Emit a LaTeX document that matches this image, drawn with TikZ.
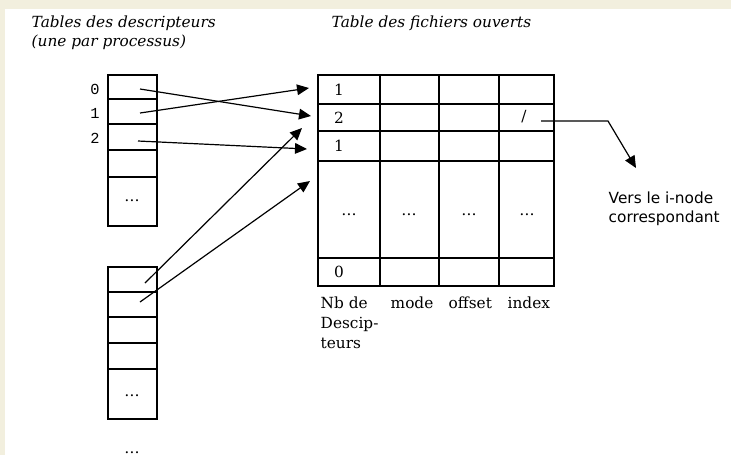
\documentclass[tikz,border=0pt]{standalone}
\usepackage{fontspec}
\setmainfont{DejaVu Serif}
\newfontfamily\sanslabel{DejaVu Sans}
\newfontfamily\monolabel{Liberation Mono}
\usetikzlibrary{arrows.meta}
\definecolor{slidebg}{RGB}{242,239,222}

\begin{document}
\begin{tikzpicture}[x=0.75pt, y=-0.75pt, font=\fontsize{11.5}{15}\selectfont,
    tbl/.style={line width=1.1pt},
    ptr/.style={line width=0.9pt, -{Triangle[length=9pt,width=8pt]}}]
    \fill[slidebg] (0,0) rectangle (731,455);
    \fill[white] (5,9) rectangle (731,455);
    \useasboundingbox (0,0) rectangle (731,455);

    \node (ttab) [anchor=base west] at (27,27) {\itshape Tables des descripteurs};
    \node (tproc) [anchor=base west] at (27,46) {\itshape (une par processus)};
    \node (tfich) [anchor=base west] at (327,27) {\itshape Table des fichiers ouverts};

    \draw[tbl] (108,75) rectangle (157,226);
    \foreach \y in {99,124,150,177}
      \draw[tbl] (108,\y) -- (157,\y);
    \node (dotsa) at (132,201) {\ldots};
    \foreach \i/\y in {0/89,1/113,2/138}
      \node (fd\i) at (95,\y) {\monolabel \i};

    \draw[tbl] (108,267) rectangle (157,419);
    \foreach \y in {292,317,343,369}
      \draw[tbl] (108,\y) -- (157,\y);
    \node (dotsb) at (132,396) {\ldots};
    \node (dotsc) [anchor=base] at (132,453) {\ldots};

    \draw[tbl] (318,75) rectangle (554,286);
    \foreach \y in {104,131,161,258}
      \draw[tbl] (318,\y) -- (554,\y);
    \foreach \x in {380,439,499}
      \draw[tbl] (\x,75) -- (\x,286);
    \foreach \n/\v/\y in {ra/1/89.5,rb/2/117.5,rc/1/146,rd/0/272}
      \node (\n) at (339,\y) {\v};
    \foreach \x [count=\k] in {349,409,469,527}
      \node (dots\k) at (\x,215) {\ldots};
    \node (slash) at (524,117) {/};

    \node (nb) [anchor=base west] at (316,308) {Nb de};
    \node (desc) [anchor=base west] at (316,328) {Descip-};
    \node (teurs) [anchor=base west] at (316,348) {teurs};
    \node (mode) [anchor=base west] at (386,308) {mode};
    \node (offset) [anchor=base west] at (444,308) {offset};
    \node (index) [anchor=base west] at (503,308) {index};

    \node (vers) [anchor=base west] at (604,203) {\sanslabel Vers le i-node};
    \node (corr) [anchor=base west] at (604,222) {\sanslabel correspondant};

    \coordinate (s0) at (140,89);
    \coordinate (s1) at (140,113);
    \coordinate (s2) at (138,141);
    \coordinate (u1) at (145,283);
    \coordinate (u2) at (140,302);
    \coordinate (e0) at (311,116);
    \coordinate (e1) at (309,88);
    \coordinate (e2) at (307,149);
    \coordinate (f1) at (302,128);
    \coordinate (f2) at (310,181);
    \draw[ptr] (s0) -- (e0);
    \draw[ptr] (s1) -- (e1);
    \draw[ptr] (s2) -- (e2);
    \draw[ptr] (u1) -- (f1);
    \draw[ptr] (u2) -- (f2);

    \coordinate (i0) at (541,121);
    \coordinate (i1) at (608,121);
    \coordinate (i2) at (636,168);
    \draw[ptr] (i0) -- (i1) -- (i2);
  \end{tikzpicture}
\end{document}
